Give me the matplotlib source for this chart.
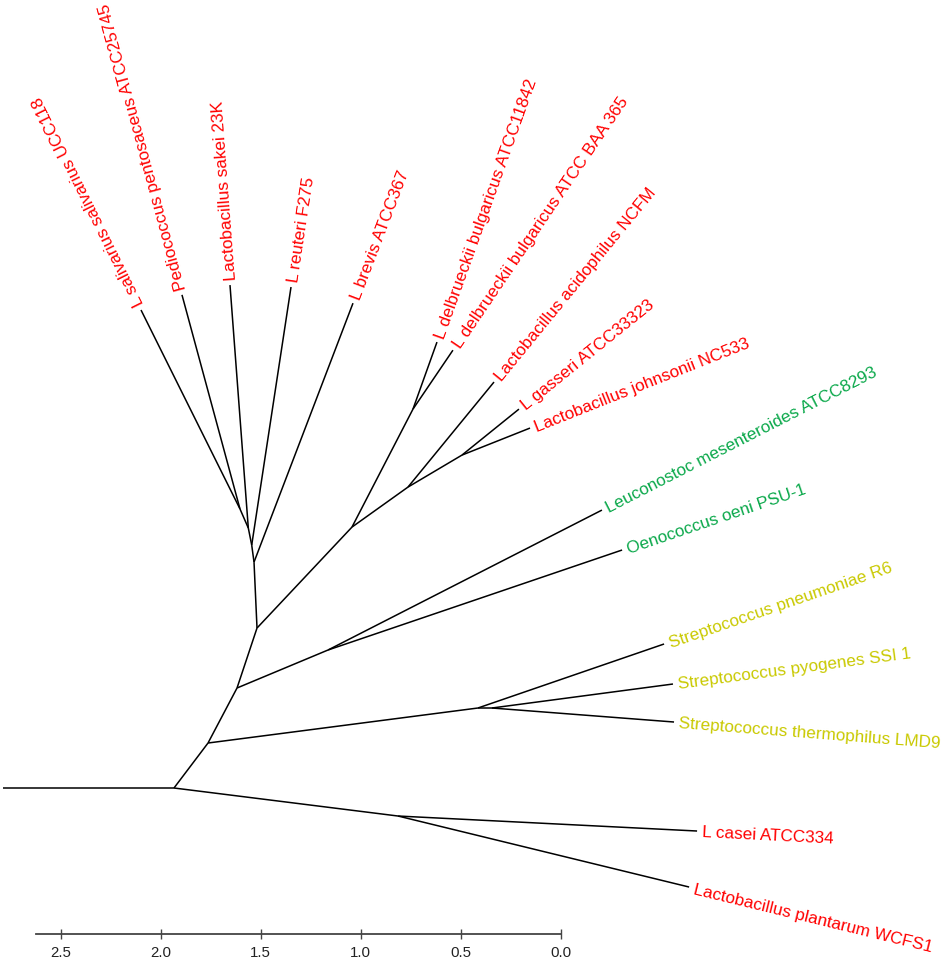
import numpy as np
import matplotlib
matplotlib.use("Agg")
import matplotlib.pyplot as plt

plt.rcParams['font.family'] = ['Liberation Sans', 'DejaVu Sans']

# ---- tree data: node, parent, branch length (distance units), branch angle (deg) ----
node_names = ['root', 'n1', 'ncp', 'casei', 'plantarum', 'n2', 'nstrep', 'pneu', 'npt', 'pyog', 'therm',
              'n3', 'nlo', 'leuc', 'oeno', 'n4', 'nlg', 'brevis', 'nlg2', 'reut', 'nlg3', 'sakei',
              'nlg4', 'saliv', 'pedio', 'n5', 'ndel', 'del1', 'del2', 'n6', 'acid', 'ngj', 'gass', 'john']
parents = [None, 'root', 'n1', 'ncp', 'ncp', 'n1', 'n2', 'nstrep', 'nstrep', 'npt', 'npt',
           'n2', 'n3', 'nlo', 'nlo', 'n3', 'n4', 'nlg', 'nlg', 'nlg2', 'nlg2', 'nlg3',
           'nlg3', 'nlg4', 'nlg4', 'n4', 'n5', 'ndel', 'ndel', 'n5', 'n6', 'n6', 'ngj', 'ngj']
branch_lengths = [0, 0.855, 1.129, 1.497, 1.498, 0.282, 1.361, 0.984, 0.07, 0.913, 0.913,
                  0.311, 0.493, 1.538, 1.553, 0.316, 0.330, 1.386, 0.086, 1.305, 0.087, 1.218,
                  0.104, 1.111, 1.109, 0.693, 0.664, 0.356, 0.356, 0.344, 0.679, 0.314, 0.366, 0.366]
branch_angles = [0, 0, -7.13, -2.87, -13.71, 52.9, 7.39, 18.98, 0, 7.55, -4.40,
                 62.2, 22.66, 27.06, 18.78, 71.57, 92.6, 69.08, 97.7, 81.34, 101.3, 94.31,
                 113.6, 116.45, 105.16, 46.75, 62.66, 70.3, 55.86, 35.54, 50.68, 30.65, 38.9, 21.66]

# ---- tip labels ----
tip_ids = ['casei', 'plantarum', 'pneu', 'pyog', 'therm', 'leuc', 'oeno', 'brevis', 'reut', 'sakei',
           'saliv', 'pedio', 'del1', 'del2', 'acid', 'gass', 'john']
tip_labels = ['L casei ATCC334', 'Lactobacillus plantarum WCFS1', 'Streptococcus pneumoniae R6',
              'Streptococcus pyogenes SSI 1', 'Streptococcus thermophilus LMD9',
              'Leuconostoc mesenteroides ATCC8293', 'Oenococcus oeni PSU-1', 'L brevis ATCC367',
              'L reuteri F275', 'Lactobacillus sakei 23K', 'L salivarius salivarius UCC118',
              'Pediococcus pentosaceus ATCC25745', 'L delbrueckii bulgaricus ATCC11842',
              'L delbrueckii bulgaricus ATCC BAA 365', 'Lactobacillus acidophilus NCFM',
              'L gasseri ATCC33323', 'Lactobacillus johnsonii NC533']
tip_groups = ['lacto', 'lacto', 'strep', 'strep', 'strep', 'leuco', 'leuco', 'lacto', 'lacto', 'lacto',
              'lacto', 'lacto', 'lacto', 'lacto', 'lacto', 'lacto', 'lacto']
group_colors = {'lacto': '#ff0000', 'leuco': '#0aa84a', 'strep': '#c9c900'}

scale_ticks = [2.5, 2.0, 1.5, 1.0, 0.5, 0.0]
scale_tick_labels = ['2.5', '2.0', '1.5', '1.0', '0.5', '0.0']

# ---- compute layout ----
pos = {}
for name, par, L, a in zip(node_names, parents, branch_lengths, branch_angles):
    if par is None:
        pos[name] = (0.0, 0.0)
    else:
        px, py = pos[par]
        r = np.deg2rad(a)
        pos[name] = (px + L * np.cos(r), py + L * np.sin(r))
angle_of = dict(zip(node_names, branch_angles))

fig = plt.figure(figsize=(9.45, 9.6), dpi=100)
ax = fig.add_axes([0, 0, 1, 1])
ax.set_xlim(-3 / 200, 942 / 200)
ax.set_ylim(-172 / 200, 788 / 200)
ax.axis('off')

for name, par in zip(node_names, parents):
    if par is None:
        continue
    (x0, y0), (x1, y1) = pos[par], pos[name]
    ax.plot([x0, x1], [y0, y1], color='black', lw=1.1, solid_capstyle='butt')

for tid, lab, grp in zip(tip_ids, tip_labels, tip_groups):
    x, y = pos[tid]
    a = angle_of[tid]
    r = np.deg2rad(a)
    ax.annotate(lab, xy=(x, y), xytext=(3.5 * np.cos(r), 3.5 * np.sin(r)), textcoords='offset points',
                rotation=a, rotation_mode='anchor', ha='left', va='center_baseline',
                fontsize=12.3, color=group_colors[grp])

# ---- scale bar ----
ax2 = fig.add_axes([36 / 945, 26 / 960, (560.7 - 36) / 945, 0.0005])
ax2.set_xlim((560.7 - 36) / 200, 0)
ax2.set_ylim(0, 1)
ax2.patch.set_visible(False)
for s in ['top', 'left', 'right']:
    ax2.spines[s].set_visible(False)
ax2.spines['bottom'].set_linewidth(1.3)
ax2.spines['bottom'].set_color('#444444')
ax2.set_yticks([])
ax2.set_xticks(scale_ticks)
ax2.set_xticklabels(scale_tick_labels)
ax2.tick_params(axis='x', direction='inout', length=7, width=1.0, color='#444444',
                labelsize=10.8, pad=5, labelcolor='#222222')

fig.savefig('out.png', dpi=100)
